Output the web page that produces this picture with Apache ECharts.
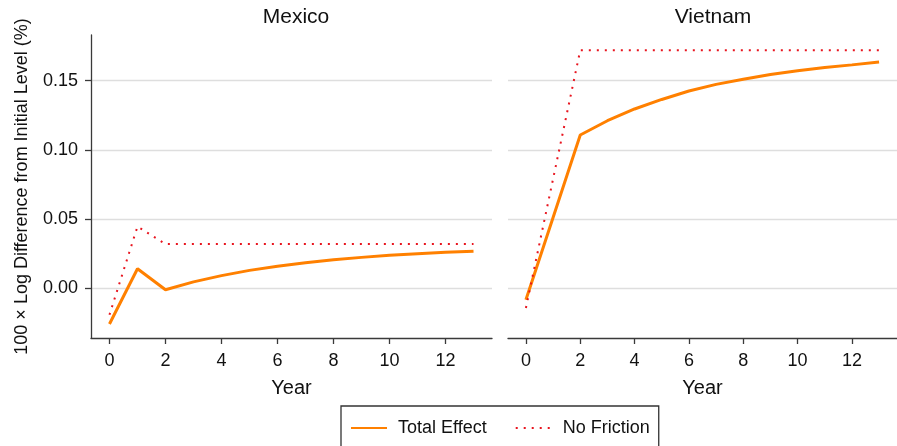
<!DOCTYPE html>
<html>
<head>
<meta charset="utf-8">
<style>
  html, body { margin: 0; padding: 0; background: #fff; }
  #chart { width: 897px; height: 446px; }
</style>
<script src="https://cdn.jsdelivr.net/npm/echarts@6/dist/echarts.min.js"></script>
</head>
<body>
<div id="chart"></div>
<script>
// Years after the shock
const years = [0, 1, 2, 3, 4, 5, 6, 7, 8, 9, 10, 11, 12, 13];

// Mexico: 100 x log difference from initial level (%)
const mexicoTotal = [-0.026, 0.014, -0.0012, 0.0045, 0.0090, 0.0128, 0.0158, 0.0183, 0.0204, 0.0222, 0.0237, 0.0249, 0.0259, 0.0267];
const mexicoNoFriction = [-0.0193, 0.0445, 0.0318, 0.0318, 0.0318, 0.0318, 0.0318, 0.0318, 0.0318, 0.0318, 0.0318, 0.0318, 0.0318, 0.0318];

// Vietnam: 100 x log difference from initial level (%)
const vietnamTotal = [-0.0084, 0.051, 0.1107, 0.121, 0.1295, 0.1364, 0.1425, 0.1473, 0.151, 0.1545, 0.1571, 0.1595, 0.1614, 0.1634];
const vietnamNoFriction = [-0.0144, 0.079, 0.172, 0.172, 0.172, 0.172, 0.172, 0.172, 0.172, 0.172, 0.172, 0.172, 0.172, 0.172];

const panelTitles = ['Mexico', 'Vietnam'];
const xTicks = [0, 2, 4, 6, 8, 10, 12];
const yTicks = [0, 0.05, 0.10, 0.15];
const seriesNames = ['Total Effect', 'No Friction'];

const FONT = '"Liberation Sans", Arial, Helvetica, sans-serif';
const ORANGE = '#ff8000';
const RED = '#e8141e';
const AXIS = '#3a3a3a';
const GRIDLINE = '#dedede';

const pair = (xs, ys) => xs.map((x, i) => [x, ys[i]]);

const grids = [
  { left: 91, right: 405, top: 35, bottom: 108 },
  { left: 508, right: -12, top: 35, bottom: 108 }
];

const xAxes = [0, 1].map(i => ({
  type: 'value',
  gridIndex: i,
  min: -0.66,
  max: 13.66,
  name: 'Year',
  nameLocation: 'middle',
  nameGap: 40,
  nameTextStyle: { fontFamily: FONT, fontSize: 20, color: '#111' },
  axisLine: { show: true, onZero: false, lineStyle: { color: AXIS, width: 1.3 } },
  axisTick: { show: true, length: 6, customValues: xTicks, lineStyle: { color: AXIS, width: 1.3 } },
  axisLabel: { customValues: xTicks, fontFamily: FONT, fontSize: 18, color: '#111', margin: 14 },
  splitLine: { show: false }
}));

const yAxes = [0, 1].map(i => ({
  type: 'value',
  gridIndex: i,
  min: -0.0361,
  max: 0.183,
  name: i === 0 ? '100 \u00d7 Log Difference from Initial Level (%)' : '',
  nameLocation: 'middle',
  nameGap: 60,
  nameRotate: 90,
  nameTextStyle: { fontFamily: FONT, fontSize: 18, color: '#111' },
  axisLine: { show: i === 0, onZero: false, lineStyle: { color: AXIS, width: 1.3 } },
  axisTick: { show: i === 0, length: 6, customValues: yTicks, lineStyle: { color: AXIS, width: 1.3 } },
  axisLabel: {
    show: i === 0,
    customValues: yTicks,
    fontFamily: FONT, fontSize: 18, color: '#111', margin: 13,
    formatter: v => v.toFixed(2)
  },
  splitLine: { show: true, lineStyle: { color: GRIDLINE, width: 1.3 } }
}));

function totalSeries(idx, data) {
  return {
    name: seriesNames[0], type: 'line', xAxisIndex: idx, yAxisIndex: idx,
    data: pair(years, data), symbol: 'none', z: 3,
    lineStyle: { color: ORANGE, width: 3 }, itemStyle: { color: ORANGE }
  };
}
function noFrictionSeries(idx, data) {
  return {
    name: seriesNames[1], type: 'line', xAxisIndex: idx, yAxisIndex: idx,
    data: pair(years, data), symbol: 'none', z: 4,
    lineStyle: { color: RED, width: 2, type: [2, 6] }, itemStyle: { color: RED }
  };
}

const chart = echarts.init(document.getElementById('chart'), null, { renderer: 'canvas' });
chart.setOption({
  animation: false,
  backgroundColor: '#ffffff',
  title: [
    { text: panelTitles[0], left: 291, top: 2, textAlign: 'center',
      textStyle: { fontFamily: FONT, fontSize: 21, fontWeight: 'normal', color: '#111' } },
    { text: panelTitles[1], left: 708, top: 2, textAlign: 'center',
      textStyle: { fontFamily: FONT, fontSize: 21, fontWeight: 'normal', color: '#111' } }
  ],
  legend: {
    data: seriesNames,
    left: 341, top: 406,
    orient: 'horizontal',
    padding: [13, 9, 30, 9],
    borderColor: '#333', borderWidth: 1.3,
    itemWidth: 36, itemHeight: 14, itemGap: 28,
    itemStyle: { opacity: 0 },
    textStyle: { fontFamily: FONT, fontSize: 18, color: '#111', padding: [0, 0, 0, 6] }
  },
  grid: grids,
  xAxis: xAxes,
  yAxis: yAxes,
  series: [
    totalSeries(0, mexicoTotal),
    noFrictionSeries(0, mexicoNoFriction),
    totalSeries(1, vietnamTotal),
    noFrictionSeries(1, vietnamNoFriction)
  ]
});
</script>
</body>
</html>
